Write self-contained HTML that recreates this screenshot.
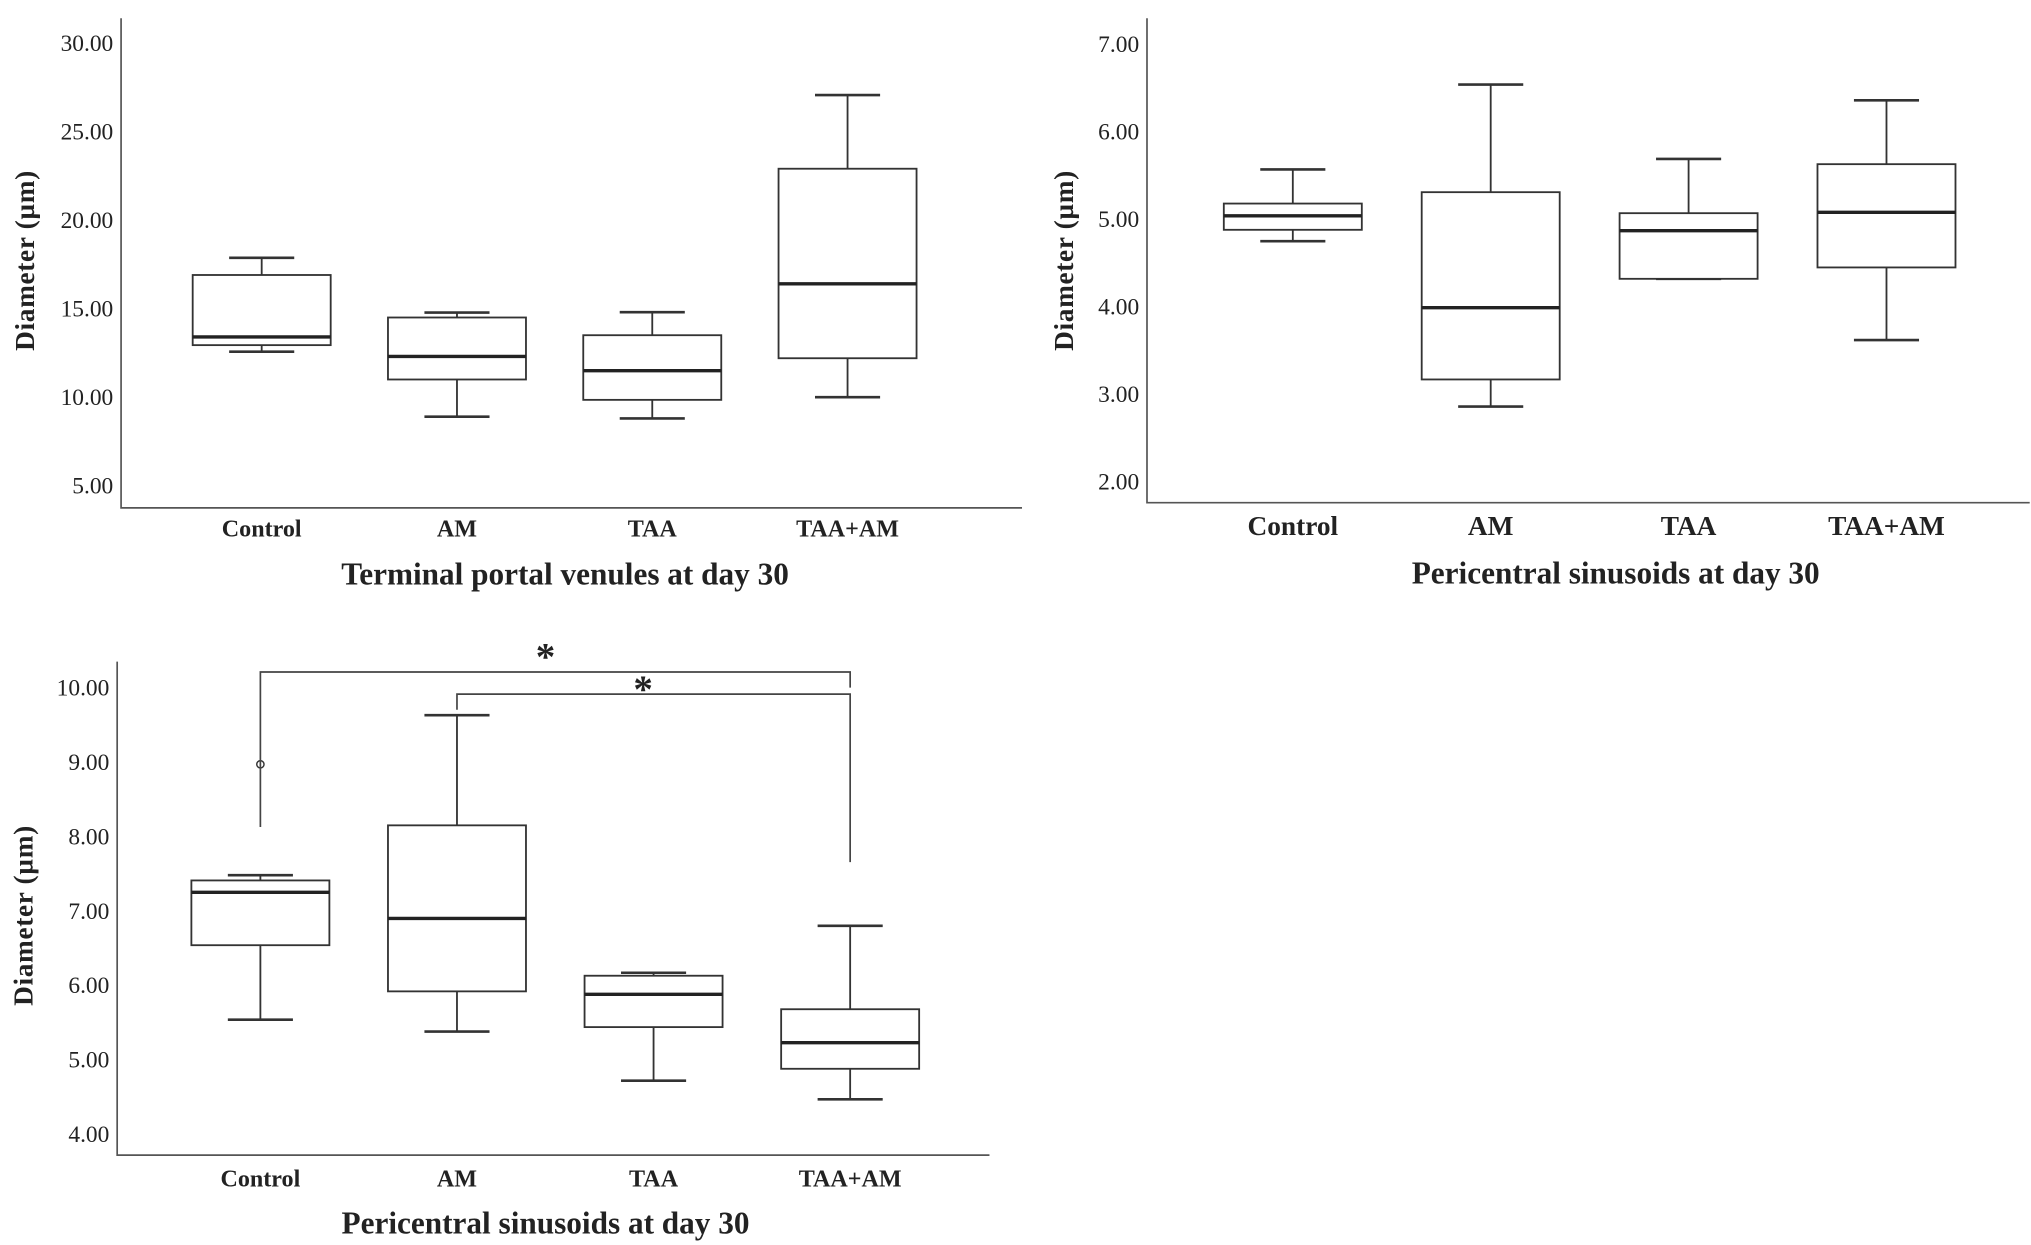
<!DOCTYPE html>
<html><head><meta charset="utf-8"><style>
html,body{margin:0;padding:0;background:#fff;}
svg{display:block;}
text{font-family:"Liberation Serif",serif;fill:#222;}
.tick{font-size:18px;}
.cat{font-size:18.5px;font-weight:bold;}
.cat2{font-size:21px;font-weight:bold;}
.xt{font-size:24px;font-weight:bold;}
.yt{font-size:21px;font-weight:bold;letter-spacing:0.5px;}
</style></head><body>
<svg id="fig" width="2031" height="1245" viewBox="0 0 1560 956" preserveAspectRatio="none" xmlns="http://www.w3.org/2000/svg"></svg>
<script>
const categories = ["Control","AM","TAA","TAA+AM"];
// chart 1: terminal portal venules [min, q1, median, q3, max]
const tpvMin = [12.57, 8.9, 8.8, 10.0];
const tpvQ1 = [12.94, 11.0, 9.85, 12.2];
const tpvMed = [13.4, 12.3, 11.5, 16.4];
const tpvQ3 = [16.9, 14.5, 13.5, 22.9];
const tpvMax = [17.87, 14.78, 14.8, 27.06];
const tpvTicks = [5, 10, 15, 20, 25, 30];
// chart 2: pericentral sinusoids (top right)
const ps1Min = [4.75, 2.86, 4.32, 3.62];
const ps1Q1 = [4.88, 3.17, 4.32, 4.45];
const ps1Med = [5.04, 3.99, 4.87, 5.08];
const ps1Q3 = [5.18, 5.31, 5.07, 5.63];
const ps1Max = [5.57, 6.54, 5.69, 6.36];
const ps1Ticks = [2, 3, 4, 5, 6, 7];
// chart 3: pericentral sinusoids (bottom)
const ps2Min = [5.54, 5.38, 4.72, 4.47];
const ps2Q1 = [6.54, 5.92, 5.44, 4.88];
const ps2Med = [7.25, 6.9, 5.88, 5.23];
const ps2Q3 = [7.41, 8.15, 6.13, 5.68];
const ps2Max = [7.48, 9.63, 6.17, 6.8];
const ps2Outliers = [[0, 8.97]];
const ps2Ticks = [4, 5, 6, 7, 8, 9, 10];

const NS="http://www.w3.org/2000/svg";
const svg=document.getElementById('fig');
function mk(tag,attrs,parent){const e=document.createElementNS(NS,tag);for(const k in attrs)e.setAttribute(k,attrs[k]);(parent||svg).appendChild(e);return e;}

function chart(cfg){
  const g=mk('g',{});
  
  
  const y=v=>cfg.y0px+(v-cfg.v0)*(cfg.y1px-cfg.y0px)/(cfg.v1-cfg.v0);
  const x=i=>cfg.xc0+i*cfg.dx;
  const ax=mk('path',{d:`M${cfg.axX} ${cfg.axTop} V${cfg.axBot} H${cfg.axRight}`,stroke:'#555',fill:'none','stroke-width':1.3},g);
  
  
  cfg.ticks.forEach(t=>{
    const tx=mk('text',{x:cfg.axX-6,y:y(t)+6,'text-anchor':'end',class:'tick'},g);
    
    
    tx.textContent=t.toFixed(2);
  });
  categories.forEach((c,i)=>{
    const tx=mk('text',{x:x(i),y:cfg.catY,'text-anchor':'middle',class:cfg.catClass},g);
    
    
    tx.textContent=c;
    const bg=mk('g',{stroke:'#333',fill:'none','stroke-width':1.4},g);
    
    
    const hw=53,cw=25,cx=x(i);
    mk('line',{x1:cx,x2:cx,y1:y(cfg.max[i]),y2:y(cfg.q3[i])},bg);
    mk('line',{x1:cx,x2:cx,y1:y(cfg.q1[i]),y2:y(cfg.min[i])},bg);
    mk('line',{x1:cx-cw,x2:cx+cw,y1:y(cfg.max[i]),y2:y(cfg.max[i]),'stroke-width':2},bg);
    mk('line',{x1:cx-cw,x2:cx+cw,y1:y(cfg.min[i]),y2:y(cfg.min[i]),'stroke-width':2},bg);
    mk('rect',{x:cx-hw,y:y(cfg.q3[i]),width:2*hw,height:y(cfg.q1[i])-y(cfg.q3[i]),fill:'#fff'},bg);
    mk('line',{x1:cx-hw,x2:cx+hw,y1:y(cfg.med[i]),y2:y(cfg.med[i]),'stroke-width':2.6,stroke:'#222'},bg);
  });
  (cfg.outliers||[]).forEach(o=>{
    const c=mk('circle',{cx:x(o[0]),cy:y(o[1]),r:2.8,fill:'none',stroke:'#333','stroke-width':1.1},g);
    
    
  });
  const xt=mk('text',{x:cfg.xtX,y:cfg.xtY,'text-anchor':'middle',class:'xt'},g);
  
  
  xt.textContent=cfg.xtitle;
  const yt=mk('text',{x:0,y:0,'text-anchor':'middle',class:'yt',transform:`translate(${cfg.ytX},${cfg.ytY}) rotate(-90)`},g);
  
  
  yt.textContent='Diameter (µm)';
  return {x,y,g};
}

chart({name:'chart-terminal-portal-venules',v0:5,v1:30,y0px:373,y1px:33,xc0:201,dx:150,
  axX:93,axTop:14,axBot:390,axRight:785,ticks:tpvTicks,catY:412,catClass:'cat',
  min:tpvMin,q1:tpvQ1,med:tpvMed,q3:tpvQ3,max:tpvMax,
  xtitle:'Terminal portal venules at day 30',xtX:434,xtY:449,ytX:26,ytY:200});

chart({name:'chart-pericentral-sinusoids-top',v0:2,v1:7,y0px:370,y1px:34,xc0:993,dx:152,
  axX:881,axTop:14,axBot:386,axRight:1559,ticks:ps1Ticks,catY:411,catClass:'cat2',
  min:ps1Min,q1:ps1Q1,med:ps1Med,q3:ps1Q3,max:ps1Max,
  xtitle:'Pericentral sinusoids at day 30',xtX:1241,xtY:448,ytX:824,ytY:200});

const c3=chart({name:'chart-pericentral-sinusoids-bottom',v0:4,v1:10,y0px:871,y1px:528,xc0:200,dx:151,
  axX:90,axTop:508,axBot:887,axRight:760,ticks:ps2Ticks,catY:911,catClass:'cat',
  min:ps2Min,q1:ps2Q1,med:ps2Med,q3:ps2Q3,max:ps2Max,outliers:ps2Outliers,
  xtitle:'Pericentral sinusoids at day 30',xtX:419,xtY:947,ytX:25,ytY:703});

// significance brackets
const sg=mk('g',{stroke:'#444',fill:'none','stroke-width':1.3});


mk('path',{d:`M${c3.x(0)} 635 V516 H${c3.x(3)} V528`},sg);
mk('path',{d:`M${c3.x(1)} 545 V533 H${c3.x(3)} V662`},sg);
const s1=mk('text',{x:419,y:514,'text-anchor':'middle','font-size':30,'font-weight':'bold'});


s1.textContent='*';
const s2=mk('text',{x:494,y:539,'text-anchor':'middle','font-size':30,'font-weight':'bold'});


s2.textContent='*';
</script>
</body></html>
